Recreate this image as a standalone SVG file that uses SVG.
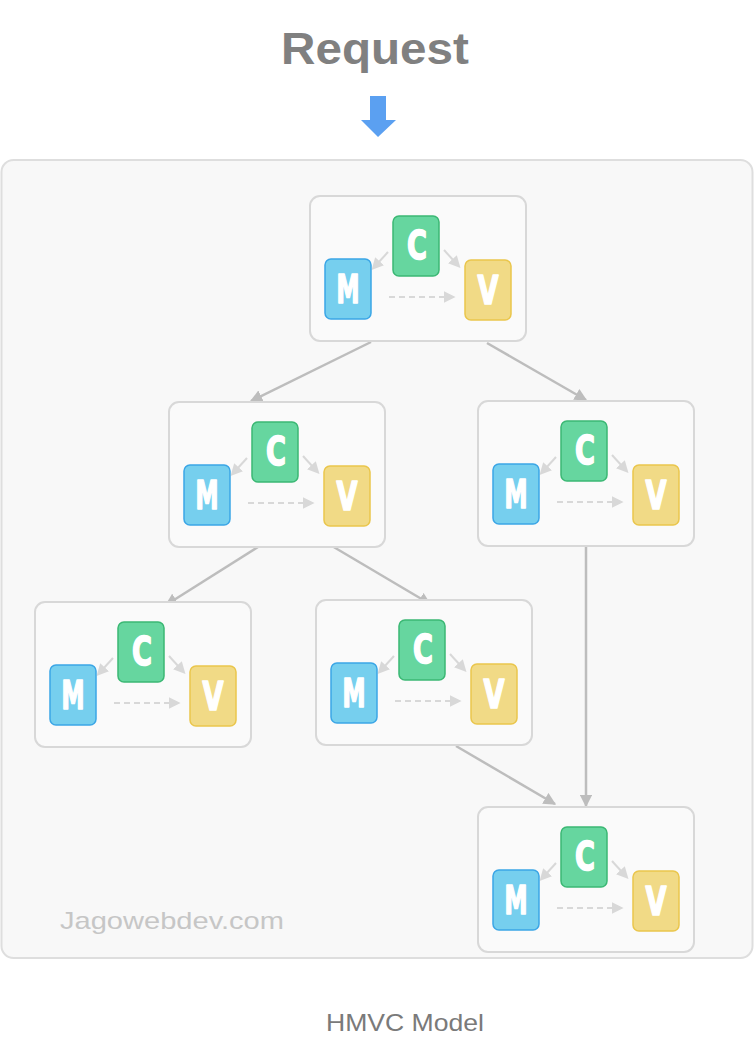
<svg xmlns="http://www.w3.org/2000/svg" width="755" height="1051" viewBox="0 0 755 1051">
<style>
.title{font-family:"Liberation Sans",Arial,sans-serif;font-weight:bold;fill:#808080}
.lbl{font-family:"Liberation Sans",Arial,sans-serif;fill:#7a7a7a}
.wm{font-family:"Liberation Sans",Arial,sans-serif;fill:#c6c6c6}
.box{fill:#fafafa;stroke:#d8d8d8;stroke-width:2}
.m{fill:#76cfee;stroke:#3ba6e6;stroke-width:1.5}
.c{fill:#66d69f;stroke:#3bb874;stroke-width:1.5}
.v{fill:#f1da86;stroke:#eac64c;stroke-width:1.5}
.let{font-family:"DejaVu Sans Condensed","DejaVu Sans",sans-serif;font-weight:bold;font-size:39px;fill:#ffffff;stroke:#ffffff;stroke-width:1.6;stroke-linejoin:round;text-anchor:middle}
.sa{stroke:#d8d8d8;stroke-width:2;fill:none;marker-end:url(#sh)}
.sd{stroke:#d8d8d8;stroke-width:2;fill:none;stroke-dasharray:6 4;marker-end:url(#sh)}
.conn{stroke:#bdbdbd;stroke-width:2.5;fill:none;marker-end:url(#ah)}
</style>
<defs>
<marker id="sh" viewBox="0 0 10 10" refX="2" refY="5" markerWidth="6" markerHeight="6" orient="auto" markerUnits="strokeWidth">
<path d="M0,0 L10,5 L0,10 z" fill="#d8d8d8"/>
</marker>
<marker id="ah" viewBox="0 0 10 10" refX="9" refY="5" markerWidth="5" markerHeight="5" orient="auto" markerUnits="strokeWidth">
<path d="M0,0 L10,5 L0,10 z" fill="#bdbdbd"/>
</marker>
<g id="mvc">
<rect class="box" x="0" y="0" width="216" height="145" rx="10"/>
<path class="sa" d="M78,56 L68,67"/>
<path class="sa" d="M134,54 L144,65"/>
<path class="sd" d="M79,101 L136,101"/>
<rect class="c" x="83" y="20" width="46" height="60" rx="6"/>
<rect class="m" x="15" y="63" width="46" height="60" rx="6"/>
<rect class="v" x="155" y="64" width="46" height="60" rx="6"/>
<text class="let" x="107" y="62.5" textLength="20" lengthAdjust="spacingAndGlyphs">C</text>
<text class="let" x="38" y="106.5" textLength="23" lengthAdjust="spacingAndGlyphs">M</text>
<text class="let" x="178" y="107.5" textLength="21" lengthAdjust="spacingAndGlyphs">V</text>
</g>
</defs>
<text class="title" x="375" y="64" font-size="45" text-anchor="middle" textLength="188" lengthAdjust="spacingAndGlyphs">Request</text>
<path d="M370,96 H386 V120 H396 L378,137 L361,120 H370 Z" fill="#5ba0f1"/>
<rect x="1.5" y="160" width="751" height="798" rx="12" fill="#f8f8f8" stroke="#dedede" stroke-width="2"/>
<text class="wm" x="60" y="929" font-size="24" textLength="224" lengthAdjust="spacingAndGlyphs">Jagowebdev.com</text>
<g id="connectors">
<path class="conn" d="M371,342 L251,401"/>
<path class="conn" d="M487,343 L586,400"/>
<path class="conn" d="M258,547 L166,605"/>
<path class="conn" d="M332,546 L430,604"/>
<path class="conn" d="M586,545 L586,806"/>
<path class="conn" d="M456,746 L555,804"/>
</g>
<g id="node-top"><use href="#mvc" x="310" y="196"/></g>
<g id="node-mid-left"><use href="#mvc" x="169" y="402"/></g>
<g id="node-mid-right"><use href="#mvc" x="478" y="401"/></g>
<g id="node-bottom-left"><use href="#mvc" x="35" y="602"/></g>
<g id="node-bottom-mid"><use href="#mvc" x="316" y="600"/></g>
<g id="node-bottom-right"><use href="#mvc" x="478" y="807"/></g>
<text class="lbl" x="405" y="1031" font-size="24" text-anchor="middle" textLength="158" lengthAdjust="spacingAndGlyphs">HMVC Model</text>
</svg>
